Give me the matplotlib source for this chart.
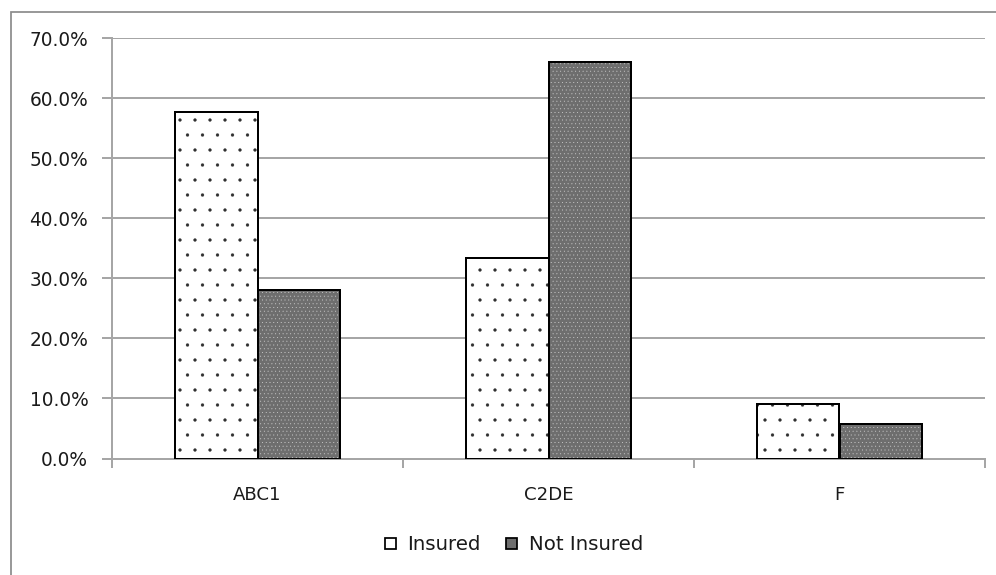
import matplotlib
matplotlib.use("Agg")
import matplotlib.pyplot as plt
from matplotlib.patches import Patch, Rectangle
from matplotlib.ticker import FuncFormatter, MultipleLocator
import numpy as np

categories = ["ABC1", "C2DE", "F"]
insured = [57.6, 33.4, 9.1]
not_insured = [28.1, 66.0, 5.8]
series_names = ["Insured", "Not Insured"]

DPI = 90
W, H = 996, 575
plt.rcParams["font.family"] = ["DejaVu Sans"]

fig = plt.figure(figsize=(W / DPI, H / DPI), dpi=DPI)
fig.patch.set_facecolor("white")

# outer chart frame (top and left edges visible)
fig.add_artist(Rectangle((11 / W, -0.05), 1.2, (H - 12) / H + 0.05,
                         transform=fig.transFigure, fill=False,
                         edgecolor="#8c8c8c", lw=1.4))

left, right = 112 / W, 985 / W
bottom, top = (H - 458.5) / H, (H - 38) / H
ax = fig.add_axes([left, bottom, right - left, top - bottom])

x = np.arange(len(categories))
bw = 0.285
grid_c = "#a6a6a6"
text_c = "#1a1a1a"
dark_fill = "#6e6e6e"


def hatched_bars(xpos, vals, face, hatch_col, hatch, hlw):
    plt.rcParams["hatch.linewidth"] = hlw
    bars = ax.bar(xpos, vals, bw, color=face, edgecolor=hatch_col,
                  hatch=hatch, lw=0, zorder=3)
    for b in bars:
        if hasattr(b, "set_hatch_linewidth"):
            b.set_hatch_linewidth(hlw)
    ax.bar(xpos, vals, bw, fill=False, edgecolor="black", lw=1.6, zorder=4)
    return bars


# Insured: white with sparse dots
hatched_bars(x - bw / 2, insured, "white", "#303030", ".", 0.2)
# Not insured: dark fine-dotted fill
hatched_bars(x + bw / 2, not_insured, dark_fill, "#d4d4d4", "....", 0.2)

ax.set_xlim(-0.5, 2.5)
ax.set_ylim(0, 70)
ax.yaxis.set_major_locator(MultipleLocator(10))
ax.yaxis.set_major_formatter(FuncFormatter(lambda v, p: f"{v:.1f}%"))
ax.yaxis.grid(True, color=grid_c, lw=1.6, zorder=0)
ax.set_axisbelow(True)

for s in ["top", "right"]:
    ax.spines[s].set_visible(False)
for s in ["left", "bottom"]:
    ax.spines[s].set_color(grid_c)
    ax.spines[s].set_linewidth(1.6)

ax.set_xticks([-0.5, 0.5, 1.5, 2.5])
ax.set_xticklabels([])
ax.set_xticks(x, minor=True)
ax.set_xticklabels(categories, minor=True)
ax.tick_params(axis="x", which="major", length=7, width=1.6, color=grid_c)
ax.tick_params(axis="x", which="minor", length=0, pad=22, labelsize=14.5, labelcolor=text_c)
ax.tick_params(axis="y", length=8, width=1.6, color=grid_c, pad=11,
               labelsize=14.8, labelcolor=text_c)

handles = [
    Patch(facecolor="white", edgecolor="black", lw=1.4, label=series_names[0]),
    Patch(facecolor=dark_fill, edgecolor="black", lw=1.4, label=series_names[1]),
]
fig.legend(handles=handles, loc="center", bbox_to_anchor=(514 / W, (H - 545) / H),
           ncol=2, frameon=False, fontsize=15.8, handlelength=0.55, handleheight=0.55,
           handletextpad=0.6, columnspacing=1.3, labelcolor=text_c)

fig.savefig("out.png", dpi=DPI, facecolor="white")
